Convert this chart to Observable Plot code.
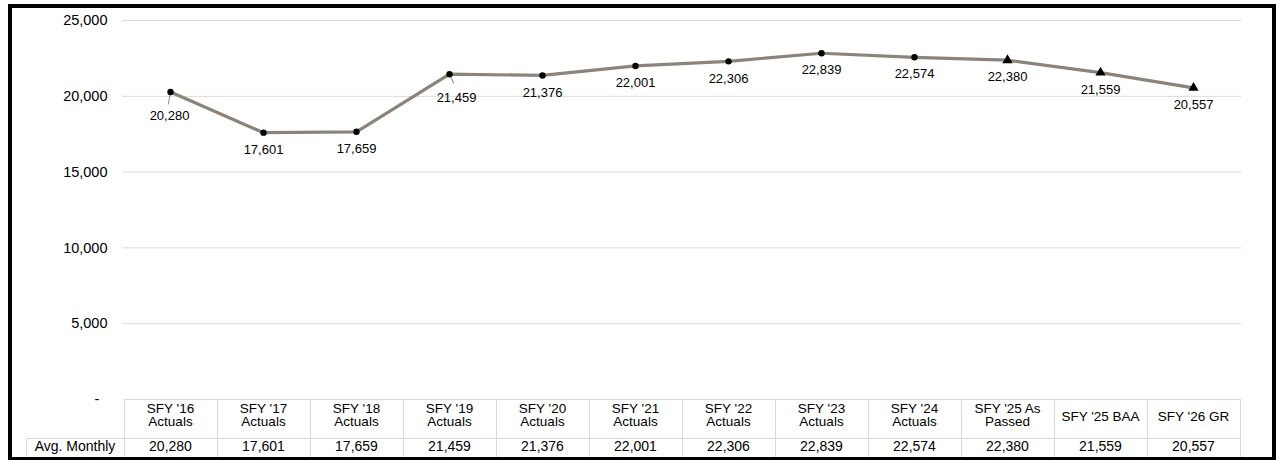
<!DOCTYPE html>
<html>
<head>
<meta charset="utf-8">
<script src="https://cdn.jsdelivr.net/npm/d3@7"></script>
<script src="https://cdn.jsdelivr.net/npm/@observablehq/plot@0.6"></script>
<style>
  body { margin: 0; background: #fff; font-family: "Liberation Sans", Arial, sans-serif; }
  #wrap { position: relative; width: 1278px; height: 460px; overflow: hidden; background: #fff; }
  #chart { position: absolute; left: 0; top: 0; }
  #frame { position: absolute; left: 8px; top: 4px; width: 1268px; height: 457px; box-sizing: border-box; border: 4px solid #000; pointer-events: none; }
  table.tbl { position: absolute; border-collapse: collapse; table-layout: fixed; color: #000; font-family: "Liberation Sans", Arial, sans-serif; }
  table.tbl td { border: 1px solid #d9d9d9; text-align: center; padding: 0; white-space: pre; }
  table.tbl tr.head td { height: 39px; font-size: 13.5px; line-height: 13px; vertical-align: middle; box-sizing: border-box; }
  table.tbl tr.head td.two { padding-bottom: 8px; }
  table.tbl tr.head td.one { padding-bottom: 4px; }
  table.tbl tr.head td.blank { border: none; }
  table.tbl tr.vals td { height: 18px; font-size: 14px; line-height: 14px; vertical-align: top; padding-top: 0px; }
</style>
</head>
<body>
<div id="wrap"><div id="chart"></div><div id="frame"></div></div>
<script>
// ---- data ----
const categories = [
  "SFY '16\nActuals", "SFY '17\nActuals", "SFY '18\nActuals", "SFY '19\nActuals",
  "SFY '20\nActuals", "SFY '21\nActuals", "SFY '22\nActuals", "SFY '23\nActuals",
  "SFY '24\nActuals", "SFY '25 As\nPassed", "SFY '25 BAA", "SFY '26 GR"
];
const values = [20280, 17601, 17659, 21459, 21376, 22001, 22306, 22839, 22574, 22380, 21559, 20557];
const yTicks = [0, 5000, 10000, 15000, 20000, 25000];
const rowLabel = "Avg. Monthly";

// ---- derived ----
const fmt = d3.format(",");
const data = categories.map((c, i) => ({cat: c, value: values[i], actual: c.includes("Actuals")}));
const actuals = data.filter(d => d.actual);
const projected = data.filter(d => !d.actual);
const leaderA = data.filter(d => d.cat === categories[0]);
const leaderB = data.filter(d => d.cat === categories[3]);
const regular = data.filter(d => d !== leaderA[0] && d !== leaderB[0]);

const leaderShape = {
  draw(context, l) { context.moveTo(0, 0); context.lineTo(0, -l); }
};

const plot = Plot.plot({
  width: 1278,
  height: 400,
  marginTop: 20,
  marginBottom: 1,
  marginLeft: 122,
  marginRight: 37,
  style: {fontFamily: "Liberation Sans, Arial, sans-serif", background: "transparent", overflow: "visible", color: "#000"},
  x: {type: "point", domain: categories, padding: 0.5, axis: null},
  y: {domain: [0, 25000], label: null},
  marks: [
    Plot.ruleY(yTicks.filter(d => d > 0), {stroke: "#d9d9d9", strokeWidth: 1}),
    Plot.axisY({ticks: yTicks, tickSize: 0, tickPadding: 15, fontSize: 14.5, fill: "#000", label: null,
      tickFormat: d => d === 0 ? "-  " : fmt(d)}),
    Plot.line(data, {x: "cat", y: "value", stroke: "#8c837b", strokeWidth: 3.2}),
    Plot.vector(leaderA, {x: "cat", y: "value", length: 12, rotate: 190, anchor: "start", shape: leaderShape, stroke: "#8c8c8c", strokeWidth: 1}),
    Plot.vector(leaderB, {x: "cat", y: "value", length: 10, rotate: 155, anchor: "start", shape: leaderShape, stroke: "#8c8c8c", strokeWidth: 1}),
    Plot.dot(actuals, {x: "cat", y: "value", r: 3.2, fill: "#000"}),
    Plot.dot(projected, {x: "cat", y: "value", r: 3.8, symbol: "triangle", fill: "#000"}),
    Plot.text(regular, {x: "cat", y: "value", text: d => fmt(d.value), dy: 17, fontSize: 13, fill: "#000"}),
    Plot.text(leaderA, {x: "cat", y: "value", text: d => fmt(d.value), dy: 24, dx: -1, fontSize: 13, fill: "#000"}),
    Plot.text(leaderB, {x: "cat", y: "value", text: d => fmt(d.value), dy: 24, dx: 7, fontSize: 13, fill: "#000"})
  ]
});
document.getElementById("chart").appendChild(plot);

// ---- table below the plot, aligned with the x scale ----
const xs = plot.scale("x");
const ys = plot.scale("y");
const step = xs.apply(categories[1]) - xs.apply(categories[0]);
const left0 = xs.apply(categories[0]) - step / 2;
const labelW = 98;

const table = d3.select("#wrap").insert("table", "#frame").attr("class", "tbl")
  .style("left", (left0 - labelW) + "px")
  .style("top", (ys.apply(0) - 0.5) + "px")
  .style("width", (labelW + step * categories.length) + "px");
const cg = table.append("colgroup");
cg.append("col").style("width", labelW + "px");
categories.forEach(() => cg.append("col").style("width", step + "px"));
const head = table.append("tr").attr("class", "head");
head.append("td").attr("class", "blank");
head.selectAll("td.h").data(categories).join("td")
  .attr("class", d => "h " + (d.includes("\n") ? "two" : "one")).text(d => d);
const vals = table.append("tr").attr("class", "vals");
vals.append("td").text(rowLabel);
vals.selectAll("td.v").data(values).join("td").attr("class", "v").text(d => fmt(d));
</script>
</body>
</html>
